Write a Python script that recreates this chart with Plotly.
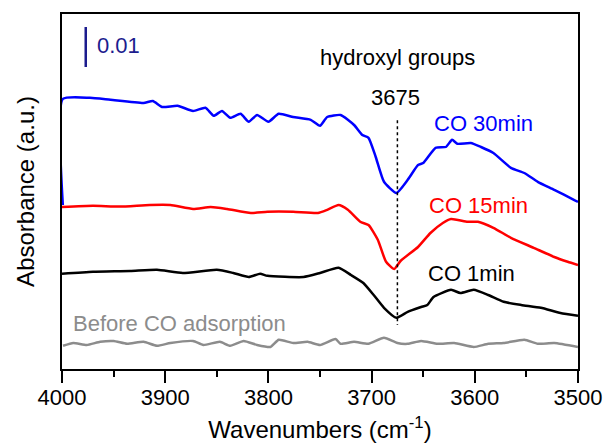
import plotly.graph_objects as go

# ---- data (wavenumber cm^-1, absorbance offset-stacked) ----
wn_30 = [3999.2, 3999.2, 3973, 3953, 3921, 3912, 3903, 3888, 3873, 3861, 3853, 3845, 3837, 3827, 3819,
         3811, 3800, 3790, 3776, 3759, 3750, 3743, 3730, 3717, 3709, 3703, 3696, 3688, 3676,
         3665, 3655, 3650, 3638, 3628, 3622, 3617, 3604, 3594, 3582, 3565, 3552, 3539, 3523,
         3504, 3500]
abs_30 = [0.0410, 0.0675, 0.0678, 0.0673, 0.0665, 0.0670, 0.0655, 0.0658, 0.0645, 0.0653, 0.0633,
          0.0645, 0.0628, 0.0638, 0.0618, 0.0635, 0.0618, 0.0638, 0.0630, 0.0623, 0.0608, 0.0630,
          0.0635, 0.0610, 0.0585, 0.0578, 0.0530, 0.0468, 0.0440, 0.0473, 0.0510, 0.0515, 0.0553,
          0.0555, 0.0573, 0.0563, 0.0565, 0.0555, 0.0540, 0.0503, 0.0490, 0.0468, 0.0448, 0.0423,
          0.0418]

wn_15 = [4000, 3970, 3944, 3915, 3895, 3873, 3856, 3840, 3817, 3801, 3776, 3752, 3743, 3732,
         3723, 3711, 3703, 3694, 3686, 3678, 3672, 3655, 3643, 3631, 3623, 3607, 3597,
         3582, 3565, 3543, 3523, 3510, 3500]
abs_15 = [0.0405, 0.0408, 0.0406, 0.0410, 0.0410, 0.0400, 0.0405, 0.0400, 0.0390, 0.0393, 0.0393,
          0.0390, 0.0398, 0.0410, 0.0398, 0.0368, 0.0360, 0.0323, 0.0268, 0.0250, 0.0270,
          0.0305, 0.0340, 0.0365, 0.0375, 0.0368, 0.0368, 0.0353, 0.0328, 0.0303, 0.0280, 0.0268,
          0.0260]

wn_1 = [4000, 3970, 3934, 3908, 3883, 3850, 3834, 3819, 3808, 3801, 3766, 3750, 3732, 3720,
        3708, 3698, 3688, 3676, 3665, 3652, 3646, 3640, 3623, 3614, 3601, 3587, 3572, 3555,
        3536, 3517, 3500]
abs_1 = [0.0238, 0.0243, 0.0245, 0.0248, 0.0240, 0.0248, 0.0240, 0.0230, 0.0238, 0.0233, 0.0230,
         0.0240, 0.0253, 0.0235, 0.0215, 0.0185, 0.0153, 0.0128, 0.0143, 0.0155, 0.0160, 0.0180,
         0.0198, 0.0190, 0.0198, 0.0185, 0.0168, 0.0160, 0.0153, 0.0140, 0.0133]

wn_0 = [3999, 3989, 3976, 3963, 3950, 3937, 3921, 3908, 3895, 3873, 3863, 3847, 3837, 3824,
        3811, 3798, 3790, 3776, 3762, 3750, 3735, 3730, 3717, 3703, 3688, 3675, 3665, 3652,
        3636, 3620, 3601, 3587, 3572, 3552, 3539, 3523, 3500]
abs_0 = [0.0058, 0.0065, 0.0060, 0.0068, 0.0070, 0.0063, 0.0068, 0.0058, 0.0065, 0.0070, 0.0060,
         0.0068, 0.0058, 0.0070, 0.0060, 0.0055, 0.0073, 0.0065, 0.0068, 0.0060, 0.0075, 0.0063,
         0.0068, 0.0063, 0.0078, 0.0065, 0.0063, 0.0070, 0.0063, 0.0065, 0.0055, 0.0063, 0.0065,
         0.0073, 0.0063, 0.0065, 0.0055]

x_ticks = [4000, 3900, 3800, 3700, 3600, 3500]
peak_wn = 3675

FONT = "Liberation Sans, Arial, sans-serif"
NAVY = "#1c1c8e"
GRAY = "#8c8c8c"

fig = go.Figure()
series = [
    (wn_0, abs_0, GRAY),
    (wn_1, abs_1, "#000000"),
    (wn_15, abs_15, "#ff0000"),
    (wn_30, abs_30, "#0000ff"),
]
for xs, ys, c in series:
    fig.add_trace(go.Scatter(x=xs, y=ys, mode="lines",
                             line=dict(color=c, width=2.5, shape="spline", smoothing=0.5),
                             showlegend=False, hoverinfo="skip", cliponaxis=False))

# dotted marker line at peak
fig.add_trace(go.Scatter(x=[peak_wn, peak_wn], y=[0.0622, 0.0110], mode="lines",
                         line=dict(color="#000000", width=1.5, dash="dot"),
                         showlegend=False, hoverinfo="skip"))
# scale bar
fig.add_trace(go.Scatter(x=[3977, 3977], y=[0.0755, 0.0855], mode="lines",
                         line=dict(color=NAVY, width=2.5),
                         showlegend=False, hoverinfo="skip"))

ann = [
    dict(x=3945, y=0.0810, text="0.01", color=NAVY),
    dict(x=3675, y=0.0780, text="hydroxyl groups", color="#000000"),
    dict(x=3677, y=0.0680, text=str(peak_wn), color="#000000"),
    dict(x=3592, y=0.0615, text="CO 30min", color="#0000ff"),
    dict(x=3596, y=0.0410, text="CO 15min", color="#ff0000"),
    dict(x=3603, y=0.0240, text="CO 1min", color="#000000"),
    dict(x=3886, y=0.0115, text="Before CO adsorption", color=GRAY),
]
for a in ann:
    fig.add_annotation(x=a["x"], y=a["y"], text=a["text"], showarrow=False,
                       xref="x", yref="y", xanchor="center", yanchor="middle",
                       font=dict(family=FONT, size=22, color=a["color"]))

fig.update_layout(
    width=604, height=448,
    margin=dict(l=62, r=26, t=14, b=79, autoexpand=False),
    paper_bgcolor="white", plot_bgcolor="white",
    font=dict(family=FONT, color="#000000"),
    xaxis=dict(range=[4000, 3500], tickvals=x_ticks, ticks="outside", ticklen=12,
               tickwidth=1.5, tickcolor="#000", showline=True, linewidth=1.5, linecolor="#000",
               mirror=True, showgrid=False, zeroline=False, automargin=False,
               ticklabelstandoff=-4,
               tickfont=dict(family=FONT, size=22, color="#000"),
               minor=dict(dtick=50, tick0=4000, ticks="outside", ticklen=6, tickwidth=1.5,
                          tickcolor="#000", showgrid=False),
               title=dict(text="Wavenumbers (cm<sup>-1</sup>)", standoff=12,
                          font=dict(family=FONT, size=24, color="#000"))),
    yaxis=dict(range=[0, 0.08875], showticklabels=False, ticks="", showline=True,
               linewidth=1.5, linecolor="#000", mirror=True, showgrid=False, zeroline=False,
               layer="below traces", automargin=False,
               title=dict(text="Absorbance (a.u.)", standoff=19,
                          font=dict(family=FONT, size=24, color="#000"))),
)

fig.write_html("out.html")
